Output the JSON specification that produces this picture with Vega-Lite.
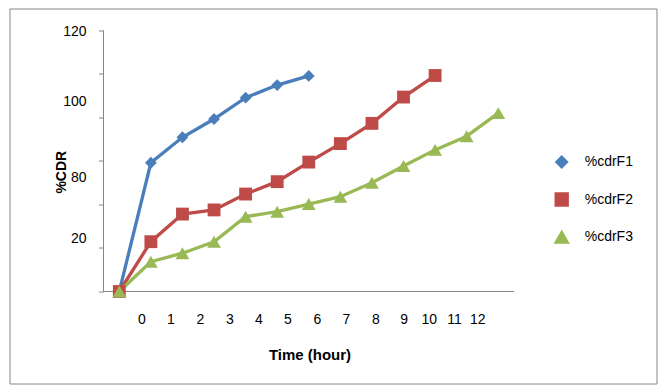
{
  "$schema": "https://vega.github.io/schema/vega-lite/v6.json",
  "width": 647,
  "height": 375,
  "autosize": {"type": "none"},
  "padding": {"left": 9.5, "top": 8.5, "right": 6.5, "bottom": 5.5},
  "background": "white",
  "config": {
    "font": "Liberation Sans",
    "view": {"stroke": "#868686", "strokeWidth": 1},
    "axis": {"grid": false}
  },
  "data": {
    "values": [
      {"series": "%cdrF1", "time": 0, "cdr": 0},
      {"series": "%cdrF1", "time": 1, "cdr": 59.2},
      {"series": "%cdrF1", "time": 2, "cdr": 70.9},
      {"series": "%cdrF1", "time": 3, "cdr": 79.3},
      {"series": "%cdrF1", "time": 4, "cdr": 89.1},
      {"series": "%cdrF1", "time": 5, "cdr": 94.9},
      {"series": "%cdrF1", "time": 6, "cdr": 99.1},
      {"series": "%cdrF2", "time": 0, "cdr": 0},
      {"series": "%cdrF2", "time": 1, "cdr": 22.9},
      {"series": "%cdrF2", "time": 2, "cdr": 35.6},
      {"series": "%cdrF2", "time": 3, "cdr": 37.5},
      {"series": "%cdrF2", "time": 4, "cdr": 44.8},
      {"series": "%cdrF2", "time": 5, "cdr": 50.5},
      {"series": "%cdrF2", "time": 6, "cdr": 59.5},
      {"series": "%cdrF2", "time": 7, "cdr": 68.0},
      {"series": "%cdrF2", "time": 8, "cdr": 77.3},
      {"series": "%cdrF2", "time": 9, "cdr": 89.4},
      {"series": "%cdrF2", "time": 10, "cdr": 99.3},
      {"series": "%cdrF3", "time": 0, "cdr": 0},
      {"series": "%cdrF3", "time": 1, "cdr": 13.7},
      {"series": "%cdrF3", "time": 2, "cdr": 17.6},
      {"series": "%cdrF3", "time": 3, "cdr": 22.9},
      {"series": "%cdrF3", "time": 4, "cdr": 34.4},
      {"series": "%cdrF3", "time": 5, "cdr": 36.7},
      {"series": "%cdrF3", "time": 6, "cdr": 40.2},
      {"series": "%cdrF3", "time": 7, "cdr": 43.6},
      {"series": "%cdrF3", "time": 8, "cdr": 50.0},
      {"series": "%cdrF3", "time": 9, "cdr": 57.7},
      {"series": "%cdrF3", "time": 10, "cdr": 65.1},
      {"series": "%cdrF3", "time": 11, "cdr": 71.4},
      {"series": "%cdrF3", "time": 12, "cdr": 82.0}
    ]
  },
  "layer": [
    {
      "data": {"values": [{}]},
      "mark": {"type": "rule", "color": "#868686", "strokeWidth": 1},
      "encoding": {
        "x": {"datum": -0.5, "type": "quantitative", "scale": {"domain": [-3.477, 17.011], "nice": false, "zero": false}, "axis": null},
        "y": {
          "datum": 0, "type": "quantitative",
          "scale": {"domain": [-42.3, 130.11], "nice": false, "zero": false},
          "axis": {
            "orient": "left", "offset": -94, "values": [0, 20, 40, 60, 80, 100, 120],
            "labels": false, "domain": false, "ticks": true, "tickSize": 5, "tickColor": "#868686", "tickWidth": 1,
            "title": null, "grid": false
          }
        },
        "y2": {"datum": 120}
      }
    },
    {
      "data": {"values": [{}]},
      "mark": {"type": "rule", "color": "#868686", "strokeWidth": 1},
      "encoding": {
        "x": {"datum": -0.5, "type": "quantitative", "scale": {"domain": [-3.477, 17.011], "nice": false, "zero": false}, "axis": null},
        "x2": {"datum": 12.5},
        "y": {"datum": 0, "type": "quantitative", "scale": {"domain": [-42.3, 130.11], "nice": false, "zero": false}, "axis": null}
      }
    },
    {
      "mark": {"type": "line", "strokeWidth": 3.3},
      "encoding": {
        "x": {
          "field": "time", "type": "quantitative",
          "scale": {"domain": [-3.477, 17.011], "nice": false, "zero": false},
          "axis": {
            "orient": "bottom", "offset": -92,
            "values": [0.697, 1.621, 2.555, 3.483, 4.401, 5.326, 6.26, 7.179, 8.106, 9.006, 9.797, 10.598, 11.336],
            "labelExpr": "'' + round(datum.index * 12)",
            "ticks": false, "domain": false,
            "labelFlush": false, "labelOverlap": false, "labelAlign": "center", "labelBaseline": "alphabetic",
            "labelPadding": 31.8, "labelFontSize": 14, "labelColor": "#000000",
            "title": "Time (hour)", "titleFontSize": 15, "titleFontWeight": "bold", "titleColor": "#000000",
            "titleX": 300, "titleY": 67.8, "titleAlign": "center", "titleBaseline": "alphabetic"
          }
        },
        "y": {"field": "cdr", "type": "quantitative", "scale": {"domain": [-42.3, 130.11], "nice": false, "zero": false}, "axis": null},
        "color": {
          "field": "series", "type": "nominal",
          "scale": {"domain": ["%cdrF1", "%cdrF2", "%cdrF3"], "range": ["#4A7EBB", "#BE4B48", "#98B954"]},
          "legend": {
            "orient": "none", "legendX": 544.2, "legendY": 146.5, "title": null,
            "symbolSize": 144, "labelOffset": 15, "labelFontSize": 14, "labelColor": "#000000",
            "rowPadding": 19
          }
        },
        "detail": {"field": "series"}
      }
    },
    {
      "mark": {"type": "point", "filled": true, "opacity": 1, "strokeWidth": 0},
      "encoding": {
        "x": {
          "field": "time", "type": "quantitative",
          "scale": {"domain": [-3.477, 17.011], "nice": false, "zero": false},
          "axis": null
        },
        "y": {
          "field": "cdr", "type": "quantitative",
          "scale": {"domain": [-42.3, 130.11], "nice": false, "zero": false},
          "axis": {
            "orient": "left", "offset": -94,
            "values": [24.3, 52.5, 87.3, 119.5],
            "labelExpr": "['20','80','100','120'][round(datum.index * 3)]",
            "ticks": false, "domain": false,
            "labelFlush": false, "labelOverlap": false, "labelAlign": "right", "labelBaseline": "middle",
            "labelPadding": 17.5, "labelFontSize": 14, "labelColor": "#000000",
            "title": "%CDR", "titleFontSize": 14, "titleFontWeight": "bold", "titleColor": "#000000",
            "titleAngle": 270, "titleX": -38.5, "titleY": 163.2, "titleAlign": "center", "titleBaseline": "alphabetic"
          }
        },
        "color": {
          "field": "series", "type": "nominal",
          "scale": {"domain": ["%cdrF1", "%cdrF2", "%cdrF3"], "range": ["#4A7EBB", "#BE4B48", "#98B954"]},
          "legend": null
        },
        "shape": {
          "field": "series", "type": "nominal",
          "scale": {"domain": ["%cdrF1", "%cdrF2", "%cdrF3"], "range": ["diamond", "square", "triangle-up"]},
          "legend": null
        },
        "size": {
          "field": "series", "type": "ordinal",
          "scale": {"domain": ["%cdrF1", "%cdrF2", "%cdrF3"], "range": [140, 190, 200]},
          "legend": null
        }
      }
    }
  ],
  "resolve": {"axis": {"y": "independent", "x": "independent"}}
}
